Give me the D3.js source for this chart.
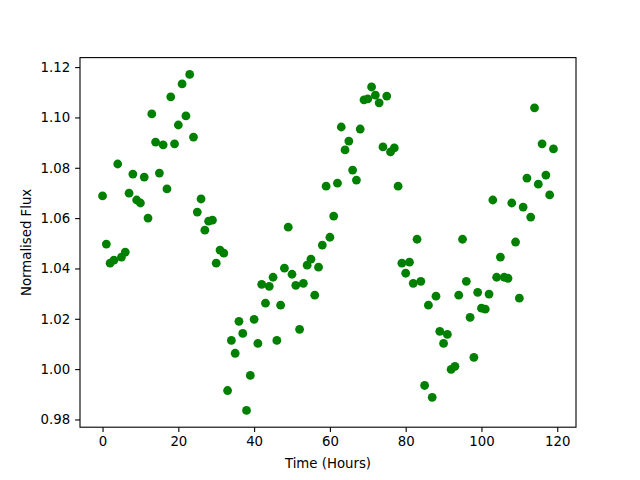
<!DOCTYPE html>
<html><head><meta charset="utf-8">
<script src="https://cdn.jsdelivr.net/npm/d3@7"></script>
<style>body{margin:0;background:#fff}svg{display:block}text{font-family:"DejaVu Sans",sans-serif}</style>
</head><body>
<script>
const hours = d3.range(0, 120);
const flux = [
1.0688,1.0497,1.0421,1.0433,1.0815,1.0445,1.0465,1.0699,1.0775,1.0672,
1.0660,1.0763,1.0600,1.1014,1.0902,1.0779,1.0891,1.0716,1.1082,1.0895,
1.0970,1.1133,1.1006,1.1171,1.0922,1.0624,1.0676,1.0552,1.0588,1.0592,
1.0421,1.0473,1.0461,0.9915,1.0114,1.0063,1.0190,1.0142,0.9836,0.9975,
1.0198,1.0102,1.0337,1.0262,1.0329,1.0365,1.0114,1.0254,1.0401,1.0564,
1.0377,1.0333,1.0158,1.0341,1.0413,1.0437,1.0294,1.0405,1.0493,1.0727,
1.0524,1.0608,1.0739,1.0962,1.0871,1.0906,1.0791,1.0751,1.0954,1.1070,
1.1074,1.1121,1.1089,1.1058,1.0883,1.1085,1.0863,1.0879,1.0727,1.0421,
1.0381,1.0425,1.0341,1.0516,1.0349,0.9935,1.0254,0.9888,1.0290,1.0150,
1.0102,1.0138,0.9999,1.0011,1.0294,1.0516,1.0349,1.0206,1.0047,1.0305,
1.0242,1.0238,1.0298,1.0672,1.0365,1.0445,1.0365,1.0361,1.0660,1.0505,
1.0282,1.0644,1.0759,1.0604,1.1038,1.0735,1.0895,1.0771,1.0692,1.0875];
const xTicks = [0,20,40,60,80,100,120];
const yTicks = [0.98,1.00,1.02,1.04,1.06,1.08,1.10,1.12];
const xLabel = "Time (Hours)";
const yLabel = "Normalised Flux";

const W=640,H=480, L=80, R=576, T=57.6, B=427.2;
const svg = d3.select("body").append("svg").attr("width",W).attr("height",H);
const xmin=d3.min(hours), xmax=d3.max(hours), xm=(xmax-xmin)*0.05;
const ymin=d3.min(flux), ymax=d3.max(flux), ym=(ymax-ymin)*0.05;
const x = d3.scaleLinear().domain([xmin-xm, xmax+xm]).range([L,R]);
const y = d3.scaleLinear().domain([ymin-ym, ymax+ym]).range([B,T]);

svg.append("g").selectAll("circle").data(hours).join("circle")
  .attr("cx",(d)=>x(d)).attr("cy",(d,i)=>y(flux[i])).attr("r",4.4).attr("fill","#008000");

const xa = svg.append("g").attr("transform",`translate(0,${B})`)
  .call(d3.axisBottom(x).tickValues(xTicks).tickSize(4.9).tickPadding(4.9).tickFormat(d3.format("d")));
const ya = svg.append("g").attr("transform",`translate(${L},0)`)
  .call(d3.axisLeft(y).tickValues(yTicks).tickSize(4.9).tickPadding(4.9).tickFormat(d3.format(".2f")));
[xa,ya].forEach(a=>{a.select(".domain").remove();a.selectAll("line").attr("stroke","#000").attr("stroke-width",1.1);
  a.selectAll("text").attr("font-size","13.3px").attr("fill","#000").attr("font-family","DejaVu Sans");});
svg.append("rect").attr("x",L).attr("y",T).attr("width",R-L).attr("height",B-T)
  .attr("fill","none").attr("stroke","#000").attr("stroke-width",1.1);
svg.append("text").attr("x",(L+R)/2).attr("y",468).attr("text-anchor","middle").attr("font-size","13.3px").text(xLabel);
svg.append("text").attr("transform",`translate(31,${(T+B)/2}) rotate(-90)`).attr("text-anchor","middle").attr("font-size","13.3px").text(yLabel);
</script>
</body></html>
